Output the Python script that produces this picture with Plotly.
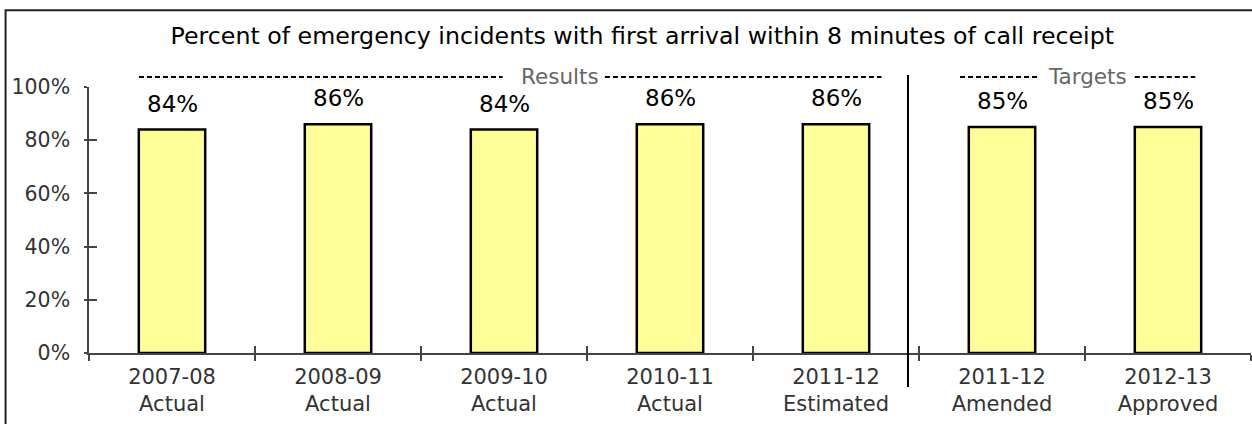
import plotly.graph_objects as go

# Fiscal-year categories (year + status shown on two lines)
years = ["2007-08", "2008-09", "2009-10", "2010-11", "2011-12", "2011-12", "2012-13"]
statuses = ["Actual", "Actual", "Actual", "Actual", "Estimated", "Amended", "Approved"]
categories = [f"{y}<br>{s}" for y, s in zip(years, statuses)]

# Percent of emergency incidents reached within 8 minutes
percent_values = [84, 86, 84, 86, 86, 85, 85]

y_ticks = [0, 20, 40, 60, 80, 100]
y_tick_labels = [f"{v}%" for v in y_ticks]

FONT = "DejaVu Sans"
AXIS_GREY = "#444444"

fig = go.Figure()

fig.add_trace(go.Bar(
    x=categories,
    y=percent_values,
    width=0.4,
    marker=dict(color="#FFFF99", line=dict(color="#000000", width=2.5)),
    hoverinfo="skip",
    showlegend=False,
))

# Transparent copy on overlay axes so the inward-facing tick marks are drawn
fig.add_trace(go.Bar(
    x=categories,
    y=percent_values,
    xaxis="x2",
    yaxis="y2",
    width=0.4,
    marker=dict(color="rgba(0,0,0,0)", line=dict(width=0)),
    hoverinfo="skip",
    showlegend=False,
))

# Value labels above each bar
for cat, val in zip(categories, percent_values):
    fig.add_annotation(
        x=cat, y=val, xref="x", yref="y",
        text=f"{val}%",
        showarrow=False,
        xanchor="center",
        yanchor="middle",
        yshift=26,
        font=dict(family=FONT, size=23, color="#000000"),
    )

# Section headers with dashed rules: results vs. targets
header_y = 1.0376
dash_segments = [
    (0.043, 0.356),
    (0.444, 0.682),
    (0.7496, 0.8176),
    (0.900, 0.952),
]
for x0, x1 in dash_segments:
    fig.add_shape(
        type="line", xref="paper", yref="paper",
        x0=x0, x1=x1, y0=header_y, y1=header_y,
        line=dict(color="#000000", width=2, dash="5px,3px"),
    )
for label, xpos in [("Results", 0.405), ("Targets", 0.859)]:
    fig.add_annotation(
        x=xpos, y=header_y, xref="paper", yref="paper",
        text=label, showarrow=False,
        xanchor="center", yanchor="middle",
        font=dict(family=FONT, size=21.5, color="#666666"),
    )

# Divider between results and targets
fig.add_shape(
    type="line", xref="paper", yref="paper",
    x0=0.7048, x1=0.7048, y0=1.045, y1=-0.128,
    line=dict(color="#000000", width=2),
)

# Outer frame (top and left edges)
fig.add_shape(
    type="rect", xref="paper", yref="paper",
    x0=-0.0718, x1=1.01, y0=1.289, y1=-0.35,
    line=dict(color="#222222", width=2),
    fillcolor="rgba(0,0,0,0)",
    layer="below",
)

common_x = dict(
    type="category",
    categoryorder="array",
    categoryarray=categories,
    range=[-0.5, 6.5],
    tickson="boundaries",
    showgrid=False,
    zeroline=False,
)
common_y = dict(
    range=[0, 100],
    tickvals=y_ticks,
    showgrid=False,
    zeroline=False,
)

fig.update_layout(
    template="none",
    width=1252,
    height=424,
    margin=dict(l=89, r=1, t=87, b=71),
    paper_bgcolor="#ffffff",
    plot_bgcolor="#ffffff",
    bargap=0.6,
    barmode="overlay",
    title=dict(
        text="Percent of emergency incidents with first arrival within 8 minutes of call receipt",
        x=0.513, xanchor="center",
        y=0.915, yanchor="middle",
        font=dict(family=FONT, size=23.7, color="#000000"),
    ),
    xaxis=dict(
        **common_x,
        showline=True, linecolor=AXIS_GREY, linewidth=1.5,
        ticks="outside", ticklen=6, tickwidth=1.5, tickcolor=AXIS_GREY,
        tickfont=dict(family=FONT, size=21, color="#333333"),
        ticklabelstandoff=4,
    ),
    xaxis2=dict(
        **common_x,
        overlaying="x",
        showline=False,
        ticks="inside", ticklen=7, tickwidth=1.5, tickcolor=AXIS_GREY,
        showticklabels=False,
    ),
    yaxis=dict(
        **common_y,
        ticktext=y_tick_labels,
        showline=True, linecolor=AXIS_GREY, linewidth=1.5,
        ticks="outside", ticklen=3, tickwidth=1.5, tickcolor=AXIS_GREY,
        tickfont=dict(family=FONT, size=20.5, color="#333333"),
        ticklabelstandoff=10,
    ),
    yaxis2=dict(
        **common_y,
        overlaying="y",
        showline=False,
        ticks="inside", ticklen=8, tickwidth=1.5, tickcolor=AXIS_GREY,
        showticklabels=False,
    ),
)

fig.write_html("out.html")
